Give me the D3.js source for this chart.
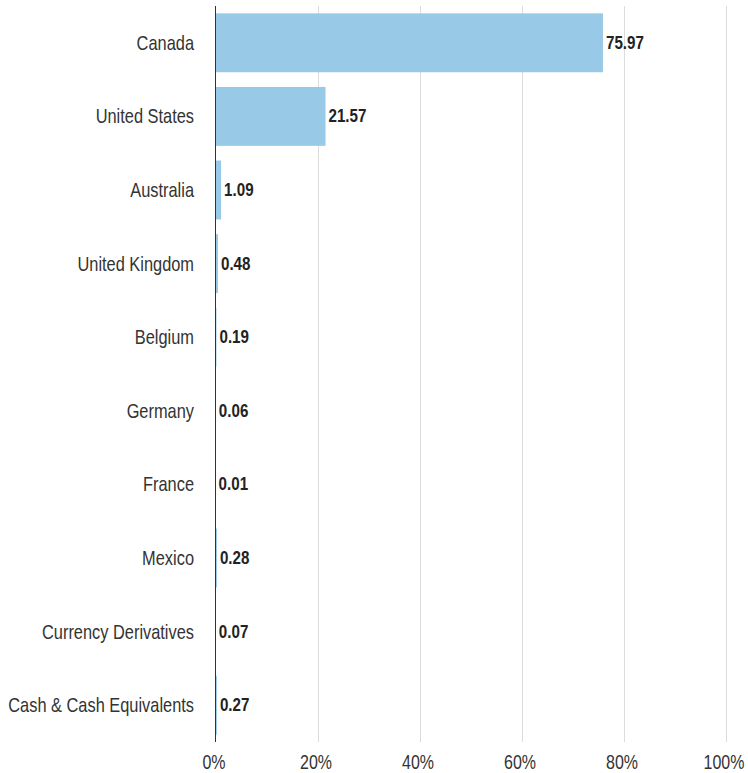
<!DOCTYPE html>
<html>
<head>
<meta charset="utf-8">
<script src="https://cdn.jsdelivr.net/npm/d3@7"></script>
<style>
  html, body { margin: 0; padding: 0; background: #fff; }
  svg { display: block; }
</style>
</head>
<body>
<svg id="chart" width="748" height="773"></svg>
<script>
const categories = ["Canada", "United States", "Australia", "United Kingdom", "Belgium", "Germany", "France", "Mexico", "Currency Derivatives", "Cash & Cash Equivalents"];
const values = [75.97, 21.57, 1.09, 0.48, 0.19, 0.06, 0.01, 0.28, 0.07, 0.27];
const tickValues = [0, 20, 40, 60, 80, 100];
const tickLabels = ["0%", "20%", "40%", "60%", "80%", "100%"];

// detect narrow font
function hasFont(name) {
  const c = document.createElement("canvas").getContext("2d");
  const s = "Cash & Cash Equivalents 0123456789%";
  c.font = "20px monospace"; const a = c.measureText(s).width;
  c.font = `20px "${name}", monospace`; const b = c.measureText(s).width;
  return Math.abs(a - b) > 0.5;
}
let narrowFamily = null;
for (const f of ["Liberation Sans Narrow", "Arial Narrow"]) { if (hasFont(f)) { narrowFamily = f; break; } }
const narrowScale = narrowFamily ? 1 : 0.82;
const narrowFont = narrowFamily ? `"${narrowFamily}", "Liberation Sans", Arial, sans-serif` : `"Liberation Sans", Arial, sans-serif`;

const svg = d3.select("#chart");
const x = d3.scaleLinear().domain([0, 100]).range([215.5, 725.5]);
const y = d3.scaleBand().domain(categories).range([6, 742]).paddingInner(0.2).paddingOuter(0.1);

// gridlines
svg.append("g").selectAll("line").data(tickValues.filter(d => d > 0)).join("line")
  .attr("x1", d => Math.round(x(d)) + 0.5).attr("x2", d => Math.round(x(d)) + 0.5)
  .attr("y1", 6).attr("y2", 742)
  .attr("stroke", "#dcdcdc").attr("stroke-width", 1);

// bars
const data = categories.map((c, i) => ({ c, v: values[i] }));
svg.append("g").selectAll("rect").data(data).join("rect")
  .attr("x", x(0)).attr("y", d => y(d.c))
  .attr("width", d => x(d.v) - x(0)).attr("height", y.bandwidth())
  .attr("fill", "#98c9e6");

// axis line at 0
svg.append("line").attr("x1", 215.5).attr("x2", 215.5).attr("y1", 6).attr("y2", 742)
  .attr("stroke", "#333").attr("stroke-width", 1);

function narrowText(sel, xPos, yPos, anchor, size) {
  sel.attr("transform", d => `translate(${xPos(d)},${yPos(d)}) scale(${narrowScale},1)`)
    .attr("text-anchor", anchor)
    .attr("font-family", narrowFont).attr("font-size", size).attr("fill", "#333");
}

// value labels
svg.append("g").selectAll("text").data(data).join("text")
  .call(narrowText, d => x(d.v) + 3, d => y(d.c) + y.bandwidth() / 2 + 6, "start", "18.5px")
  .attr("font-weight", "bold").attr("fill", "#222")
  .text(d => d.v.toFixed(2));

// category labels
svg.append("g").selectAll("text").data(categories).join("text")
  .call(narrowText, () => 194, d => y(d) + y.bandwidth() / 2 + 7, "end", "20px")
  .text(d => d);

// x tick labels
svg.append("g").selectAll("text").data(tickValues).join("text")
  .call(narrowText, d => x(d) - 1.5, () => 769, "middle", "19.5px")
  .text((d, i) => tickLabels[i]);
</script>
</body>
</html>
